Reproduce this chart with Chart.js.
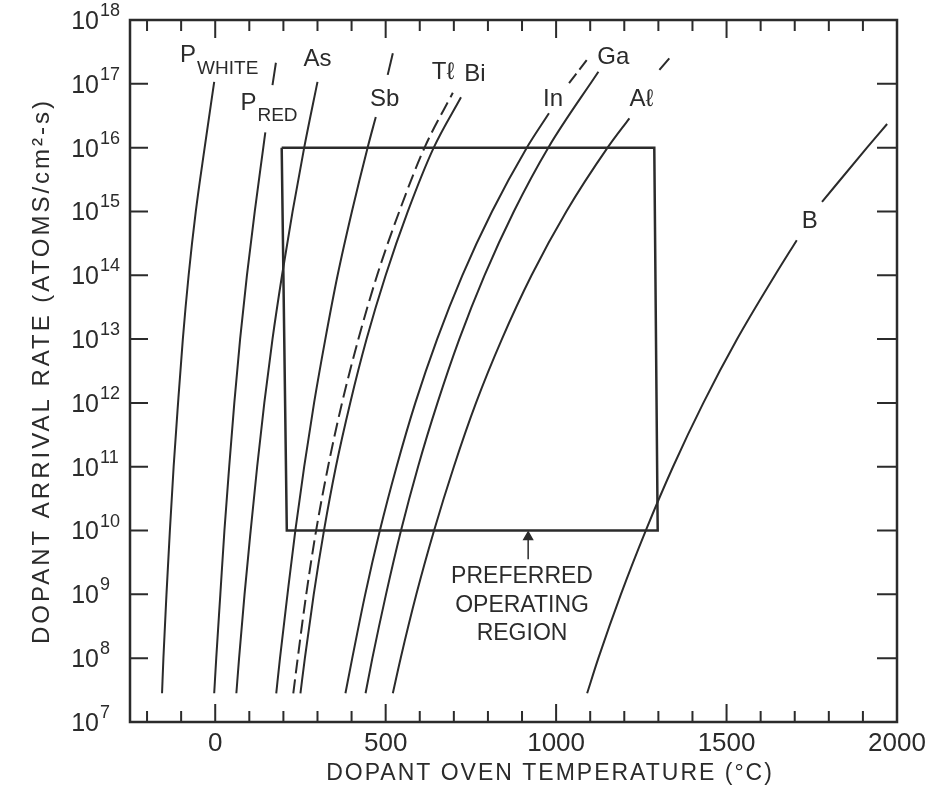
<!DOCTYPE html>
<html>
<head>
<meta charset="utf-8">
<script src="https://cdn.jsdelivr.net/npm/chart.js@4.4.1/dist/chart.umd.min.js"></script>
<style>
  html, body { margin: 0; padding: 0; background: #fff; }
</style>
</head>
<body>
<canvas id="chart" width="942" height="794"></canvas>
<script>
// Dopant arrival rate vs. oven temperature — [temperature °C, log10(rate)]
const pWhite = [[-156,7.45],[-152,8],[-143,9],[-133,10],[-122,11],[-109,12],[-95,13],[-78,14],[-57,15],[-31,16],[-3,17.03]];
const pRed = [[-3,7.45],[3,8],[15,9],[27,10],[41,11],[56,12],[73,13],[93,14],[116,15],[141,16],[147,16.24]];
const pRedTop = [[168,16.98],[178,17.33]];
const arsenic = [[62,7.45],[70,8],[86,9],[104,10],[123,11],[144,12],[168,13],[196,14],[227,15],[261,16],[300,17.03]];
const antimony = [[179,7.45],[190,8],[212,9],[235,10],[261,11],[290,12],[323,13],[359,14],[401,15],[447,16],[471,16.48]];
const antimonyTop = [[506,17.14],[521,17.48]];
const thallium = [[229,7.45],[242,8],[267,9],[296,10],[331,11],[372,12],[420,13],[475,14],[540,15],[614,16],[697,16.86]];
const bismuth = [[250,7.45],[263,8],[289,9],[319,10],[354,11],[396,12],[444,13],[500,14],[565,15],[641,16],[721,16.79]];
const indium = [[382,7.45],[402,8],[440,9],[483,10],[532,11],[587,12],[651,13],[725,14],[812,15],[914,16],[979,16.54]];
const indiumTop = [[1038,17.01],[1094,17.40]];
const gallium = [[441,7.45],[461,8],[501,9],[545,10],[595,11],[652,12],[716,13],[790,14],[876,15],[977,16],[1124,17.19]];
const aluminum = [[521,7.45],[544,8],[590,9],[642,10],[700,11],[765,12],[841,13],[928,14],[1030,15],[1151,16],[1215,16.46]];
const aluminumTop = [[1303,17.22],[1332,17.40]];
const boron = [[1091,7.45],[1124,8],[1190,9],[1263,10],[1343,11],[1432,12],[1531,13],[1642,14],[1706,14.55]];
const boronTop = [[1780,15.15],[1912,16],[1971,16.37]];

// preferred operating region outline and its arrow
const regionBox = [[195,16],[1288,16],[1298,10],[210,10],[195,16]];
const regionArrow = [[918,9.55],[918,9.9]];

// tick labels
const xLabels = [0, 500, 1000, 1500, 2000];
const xMinorTicks = [-200,-100,0,100,200,300,400,500,600,700,800,900,1000,1100,1200,1300,1400,1500,1600,1700,1800,1900];
const yExponents = [7,8,9,10,11,12,13,14,15,16,17,18];

// curve labels: [main, subscript, temperature, log10(rate)]
const curveLabels = [
  ['P', 'WHITE', -103, 17.44],
  ['P', 'RED', 74, 16.70],
  ['As', '', 300, 17.39],
  ['Sb', '', 497, 16.75],
  ['T\u2113', '', 668, 17.18],
  ['Bi', '', 762, 17.15],
  ['In', '', 991, 16.76],
  ['Ga', '', 1168, 17.42],
  ['A\u2113', '', 1250, 16.76],
  ['B', '', 1744, 14.85]
];
const regionText = ['PREFERRED', 'OPERATING', 'REGION'];

const ink = '#2b2b2b';
const family = "'Liberation Sans', Arial, sans-serif";

function pts(arr) {
  return arr.map(p => ({ x: p[0], y: Math.pow(10, p[1]) }));
}

function curve(arr, dash) {
  return {
    data: pts(arr),
    borderColor: ink,
    borderWidth: 2,
    borderDash: dash || [],
    pointRadius: 0,
    cubicInterpolationMode: 'monotone',
    fill: false
  };
}

const overlay = {
  id: 'overlay',
  afterDraw(chart) {
    const c = chart.ctx;
    const a = chart.chartArea;
    const xs = chart.scales.x;
    const ys = chart.scales.y;
    c.save();
    c.strokeStyle = ink;
    c.fillStyle = ink;

    // frame
    c.lineWidth = 2.5;
    c.strokeRect(a.left, a.top, a.right - a.left, a.bottom - a.top);

    // inward ticks
    c.lineWidth = 2;
    c.beginPath();
    xMinorTicks.forEach(t => {
      const x = xs.getPixelForValue(t);
      const len = t % 500 === 0 ? 18 : 11;
      c.moveTo(x, a.bottom); c.lineTo(x, a.bottom - len);
      c.moveTo(x, a.top); c.lineTo(x, a.top + len);
    });
    yExponents.forEach(e => {
      const y = ys.getPixelForValue(Math.pow(10, e));
      c.moveTo(a.left, y); c.lineTo(a.left + 18, y);
      c.moveTo(a.right, y); c.lineTo(a.right - 20, y);
    });
    c.stroke();

    // y tick labels 10^n
    yExponents.forEach(e => {
      const y = ys.getPixelForValue(Math.pow(10, e));
      c.font = '25px ' + family;
      c.textAlign = 'right';
      c.textBaseline = 'middle';
      c.fillText('10', a.left - 31, y + 2);
      c.font = '18px ' + family;
      c.textAlign = 'left';
      c.fillText(String(e), a.left - 30, y - 9);
    });

    // curve labels
    curveLabels.forEach(([main, sub, t, e]) => {
      const x = xs.getPixelForValue(t);
      const y = ys.getPixelForValue(Math.pow(10, e));
      c.textBaseline = 'middle';
      c.font = '24px ' + family;
      if (sub) {
        c.textAlign = 'left';
        c.fillText(main, x, y);
        const w = c.measureText(main).width;
        c.font = '19px ' + family;
        c.fillText(sub, x + w + 1, y + 13);
      } else {
        c.textAlign = 'center';
        c.fillText(main, x, y);
      }
    });

    // region annotation
    c.font = '23px ' + family;
    c.textAlign = 'center';
    c.textBaseline = 'middle';
    regionText.forEach((s, i) => {
      const x = xs.getPixelForValue(900);
      const y = ys.getPixelForValue(Math.pow(10, 9.27 - i * 0.445));
      c.fillText(s, x, y);
    });

    // axis titles
    c.font = '23px ' + family;
    c.letterSpacing = '2px';
    c.fillText('DOPANT OVEN TEMPERATURE (\u00B0C)', 550, 774);
    c.translate(42, (a.top + a.bottom) / 2);
    c.rotate(-Math.PI / 2);
    c.font = '24px ' + family;
    c.letterSpacing = '3px';
    c.fillText('DOPANT ARRIVAL RATE (ATOMS/cm\u00B2-s)', 0, 0);
    c.restore();
  }
};

new Chart(document.getElementById('chart'), {
  type: 'line',
  data: {
    datasets: [
      curve(pWhite), curve(pRed), curve(pRedTop), curve(arsenic),
      curve(antimony), curve(antimonyTop), curve(thallium, [14, 6]),
      curve(bismuth), curve(indium), curve(indiumTop, [12, 5]), curve(gallium),
      curve(aluminum), curve(aluminumTop), curve(boron), curve(boronTop),
      {
        data: pts(regionBox),
        borderColor: ink,
        borderWidth: 2.5,
        pointRadius: 0,
        tension: 0,
        fill: false
      },
      {
        data: pts(regionArrow),
        borderColor: ink,
        backgroundColor: ink,
        borderWidth: 1.5,
        pointRadius: [0, 5],
        pointStyle: 'triangle',
        tension: 0,
        fill: false
      }
    ]
  },
  options: {
    responsive: false,
    animation: false,
    layout: { padding: { top: 20, right: 45, left: 0, bottom: 0 } },
    plugins: { legend: { display: false }, tooltip: { enabled: false } },
    scales: {
      x: {
        type: 'linear',
        min: -250,
        max: 2000,
        grid: { display: false, drawTicks: false },
        border: { display: false },
        afterBuildTicks: s => { s.ticks = xLabels.map(v => ({ value: v })); },
        ticks: {
          font: { family: family, size: 26 },
          color: ink,
          padding: 6,
          maxRotation: 0,
          callback: v => String(v)
        },
        afterFit: s => { s.height = 72; }
      },
      y: {
        type: 'logarithmic',
        min: 1e7,
        max: 1e18,
        grid: { display: false, drawTicks: false },
        border: { display: false },
        ticks: { display: false },
        afterFit: s => { s.width = 130; }
      }
    }
  },
  plugins: [overlay]
});
</script>
</body>
</html>
